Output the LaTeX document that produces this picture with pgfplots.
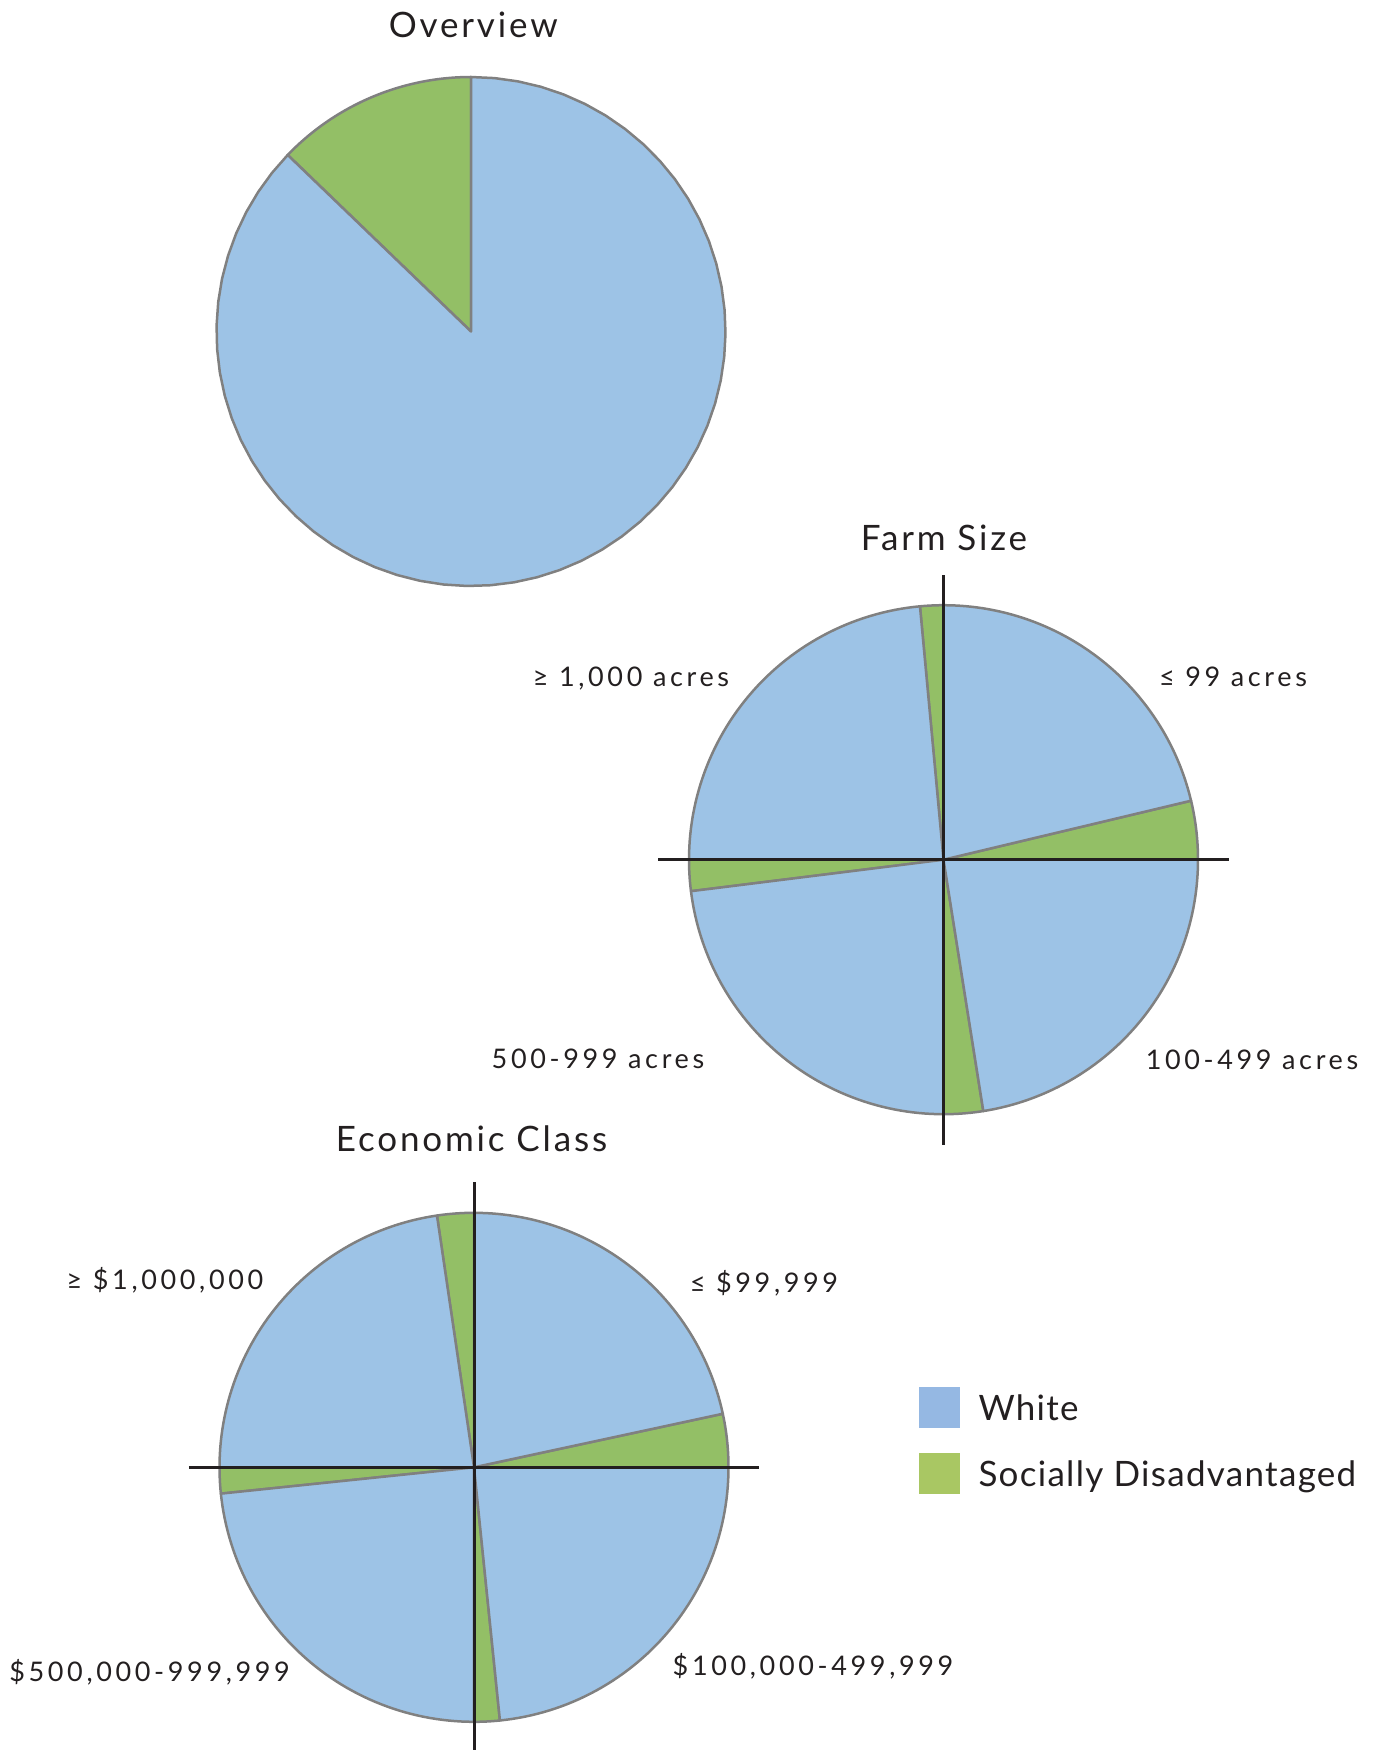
\documentclass[border=0pt]{standalone}
\usepackage{fontspec}
\setmainfont{Lato}[LetterSpace=4]
\newfontfamily\titlefamily{Lato}[LetterSpace=8.1]
\newfontfamily\legendfamily{Lato}[LetterSpace=3.7]
\newfontfamily\labelfamily{Lato}[LetterSpace=13.5]
\usepackage{pgfplots}
\pgfplotsset{compat=1.18}

\definecolor{whiteblue}{HTML}{9DC3E6}
\definecolor{sdgreen}{HTML}{93BF66}
\definecolor{edgegray}{HTML}{808080}
\definecolor{crossblack}{HTML}{231F20}
\definecolor{textblack}{HTML}{231F20}
\definecolor{legblue}{HTML}{95B8E3}
\definecolor{leggreen}{HTML}{A9C763}

% Socially disadvantaged share of all operators (percent)
\newcommand\overviewSD{12.8}
% Socially disadvantaged share within each class (percent),
% classes in clockwise order from the top right
\newcommand\farmA{14.9}  % <= 99 acres
\newcommand\farmB{10.0}  % 100-499 acres
\newcommand\farmC{7.9}   % 500-999 acres
\newcommand\farmD{5.9}   % >= 1,000 acres
\newcommand\econA{13.5}  % <= $99,999
\newcommand\econB{6.5}   % $100,000-499,999
\newcommand\econC{6.6}   % $500,000-999,999
\newcommand\econD{9.3}   % >= $1,000,000

% one wedge of a unit pie, from angle #1 to angle #2
\newcommand\slice[3]{%
  \addplot[forget plot, fill=#3, draw=edgegray, line width=1.25pt, line join=round,
    domain=#1:#2, samples=60] ({cos(x)},{sin(x)}) -- (axis cs:0,0) -- cycle;}

% four quarter classes, each split into its two groups
\newcommand\quadpie[4]{%
  \slice{0}{0.9*#1}{sdgreen}\slice{0.9*#1}{90}{whiteblue}%
  \slice{90}{90+0.9*#4}{sdgreen}\slice{90+0.9*#4}{180}{whiteblue}%
  \slice{180}{180+0.9*#3}{sdgreen}\slice{180+0.9*#3}{270}{whiteblue}%
  \slice{270}{270+0.9*#2}{sdgreen}\slice{270+0.9*#2}{360}{whiteblue}%
  \addplot[forget plot, crossblack, line width=1.5pt] coordinates {(-1.12,0) (1.12,0)};%
  \addplot[forget plot, crossblack, line width=1.5pt] coordinates {(0,-1.12) (0,1.12)};%
}

\pgfplotsset{pie/.style={anchor=origin, x=127.25pt, y=127.25pt,
  xmin=-1.2, xmax=1.2, ymin=-1.2, ymax=1.2, hide axis, clip=false}}

\newcommand\titlefont{\titlefamily\fontsize{17.5}{21}\selectfont}
\newcommand\legendfont{\legendfamily\fontsize{17.5}{21}\selectfont}
\newcommand\labelfont{\labelfamily\fontsize{13.5}{16}\selectfont}

\begin{document}
\begin{tikzpicture}[every node/.style={text=textblack}]
\path[use as bounding box] (0,0) rectangle (687pt,-875pt);

\begin{axis}[pie, at={(235.5pt,-165.75pt)}]
  \slice{90}{90+3.6*\overviewSD}{sdgreen}
  \slice{90+3.6*\overviewSD}{450}{whiteblue}
\end{axis}

\begin{axis}[pie, at={(471.75pt,-429.85pt)}]
  \quadpie{\farmA}{\farmB}{\farmC}{\farmD}
\end{axis}

\begin{axis}[pie, at={(237pt,-733.65pt)},
  legend style={draw=none, fill=none, inner sep=0pt,
    at={(axis cs:1.745,0.317)}, anchor=north west,
    row sep=12.5pt, column sep=9.5pt, text=textblack,
    nodes={inner sep=0pt, text height=12.54pt, text depth=0pt}, font=\legendfont},
  legend cell align=left,
  legend image code/.code={\fill[#1, draw=none] (0pt,-10.25pt) rectangle (20.5pt,10.25pt);}]
  \quadpie{\econA}{\econB}{\econC}{\econD}
  \addlegendimage{fill=legblue}
  \addlegendentry{White}
  \addlegendimage{fill=leggreen}
  \addlegendentry{Socially Disadvantaged}
\end{axis}

\node[anchor=base, font=\titlefont] at (236.65pt,-18.85pt) {Overview};
\node[anchor=base, font=\titlefont] at (472pt,-275pt) {Farm Size};
\node[anchor=base, font=\titlefont] at (235.75pt,-575.5pt) {Economic Class};

\node[anchor=base, font=\labelfont] at (315.5pt,-343.25pt) {≥ 1,000 acres};
\node[anchor=base, font=\labelfont] at (616.5pt,-343.25pt) {≤ 99 acres};
\node[anchor=base, font=\labelfont] at (299pt,-534pt) {500-999 acres};
\node[anchor=base, font=\labelfont] at (626pt,-534.5pt) {100-499 acres};

\node[anchor=base, font=\labelfont] at (82.5pt,-644.5pt) {≥ \$1,000,000};
\node[anchor=base, font=\labelfont] at (382pt,-646.25pt) {≤ \$99,999};
\node[anchor=base, font=\labelfont] at (74.8pt,-840.5pt) {\$500,000-999,999};
\node[anchor=base, font=\labelfont] at (406.5pt,-837.75pt) {\$100,000-499,999};
\end{tikzpicture}
\end{document}
